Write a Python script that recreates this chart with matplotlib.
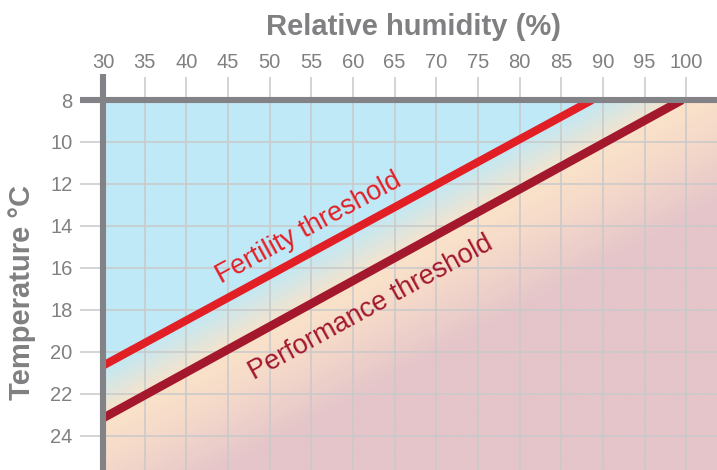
import numpy as np
import matplotlib
matplotlib.use("Agg")
import matplotlib.pyplot as plt

plt.rcParams['font.family'] = ['Liberation Sans', 'DejaVu Sans']

# ---- data ----
humidity_ticks = [30, 35, 40, 45, 50, 55, 60, 65, 70, 75, 80, 85, 90, 95, 100]
temp_ticks = [8, 10, 12, 14, 16, 18, 20, 22, 24]
fertility_rh = [30, 88.7]
fertility_temp = [20.65, 8]
performance_rh = [30, 99.5]
performance_temp = [23.15, 8]
x_limits = (30, 103.7)
y_limits = (25.62, 8)

title_text = "Relative humidity (%)"
ylabel_text = "Temperature °C"
fertility_label = "Fertility threshold"
performance_label = "Performance threshold"

# ---- style ----
GRAY_AXIS = '#838387'
GRAY_TEXT = '#808083'
GRID = '#c9c9c9'
RED = '#e31f26'
DARK_RED = '#a3182d'

fig = plt.figure(figsize=(7.17, 4.70), dpi=100)
ax = fig.add_axes([103 / 717, 0, 614 / 717, 370 / 470])
ax.set_xlim(*x_limits)
ax.set_ylim(*y_limits)

# ---- background gradient (perpendicular to fertility line) ----
nx, ny = 600, 400
gx = np.linspace(x_limits[0], x_limits[1], nx)
gy = np.linspace(y_limits[1], y_limits[0], ny)  # row 0 at top (8)
GX, GY = np.meshgrid(gx, gy)
pts = ax.transData.transform(np.column_stack([GX.ravel(), GY.ravel()]))
p1 = ax.transData.transform((fertility_rh[0], fertility_temp[0]))
p2 = ax.transData.transform((fertility_rh[1], fertility_temp[1]))
d = p2 - p1
n = np.array([d[1], -d[0]])
n = n / np.hypot(*n)
s = ((pts - p1) @ n).reshape(ny, nx)

stops = [0, 4, 46, 85, 150]
cols = np.array([
    [192, 233, 247],
    [196, 232, 243],
    [250, 227, 201],
    [245, 218, 202],
    [229, 197, 201],
]) / 255.0
img = np.zeros((ny, nx, 3))
for c in range(3):
    img[..., c] = np.interp(s, stops, cols[:, c])
ax.imshow(img, extent=(x_limits[0], x_limits[1], y_limits[0], y_limits[1]),
          origin='upper', aspect='auto', zorder=0, interpolation='bilinear')

# ---- grid & ticks ----
ax.set_xticks(humidity_ticks)
ax.set_yticks(temp_ticks)
ax.xaxis.tick_top()
ax.grid(True, color=GRID, lw=1.1, zorder=1)
ax.tick_params(axis='both', length=16.5, width=1.1, color=GRID,
               labelcolor=GRAY_TEXT, labelsize=14.5)
ax.tick_params(axis='x', pad=4.0)
ax.tick_params(axis='y', pad=5.5)
for sp in ax.spines.values():
    sp.set_visible(False)

# ---- threshold lines ----
ax.plot(fertility_rh, fertility_temp, color=RED, lw=5.8,
        solid_capstyle='butt', zorder=3)
ax.plot(performance_rh, performance_temp, color=DARK_RED, lw=6.2,
        solid_capstyle='butt', zorder=3)

def line_angle(xs, ys):
    a = ax.transData.transform((xs[0], ys[0]))
    b = ax.transData.transform((xs[1], ys[1]))
    return np.degrees(np.arctan2(b[1] - a[1], b[0] - a[0]))

ax.text(54.7, 14.1, fertility_label, color=RED, fontsize=19.5,
        rotation=line_angle(fertility_rh, fertility_temp),
        rotation_mode='anchor', ha='center', va='center', zorder=4)
ax.text(62.2, 17.9, performance_label, color=DARK_RED, fontsize=19.5,
        rotation=line_angle(performance_rh, performance_temp),
        rotation_mode='anchor', ha='center', va='center', zorder=4)

# ---- thick axis lines ----
ax.plot([-23 / 614, 1], [1, 1], transform=ax.transAxes, clip_on=False,
        color=GRAY_AXIS, lw=4.4, solid_capstyle='butt', zorder=6)
ax.plot([0, 0], [0, 1 + 26 / 370], transform=ax.transAxes, clip_on=False,
        color=GRAY_AXIS, lw=4.4, solid_capstyle='butt', zorder=6)

# ---- titles ----
fig.text(414 / 717, 1 - 27 / 470, title_text, ha='center', va='center',
         fontsize=21, fontweight='bold', color=GRAY_TEXT)
fig.text(22 / 717, 1 - 292 / 470, ylabel_text, ha='center', va='center',
         rotation=90, fontsize=21, fontweight='bold', color=GRAY_TEXT)

fig.savefig('out.png', dpi=100)
